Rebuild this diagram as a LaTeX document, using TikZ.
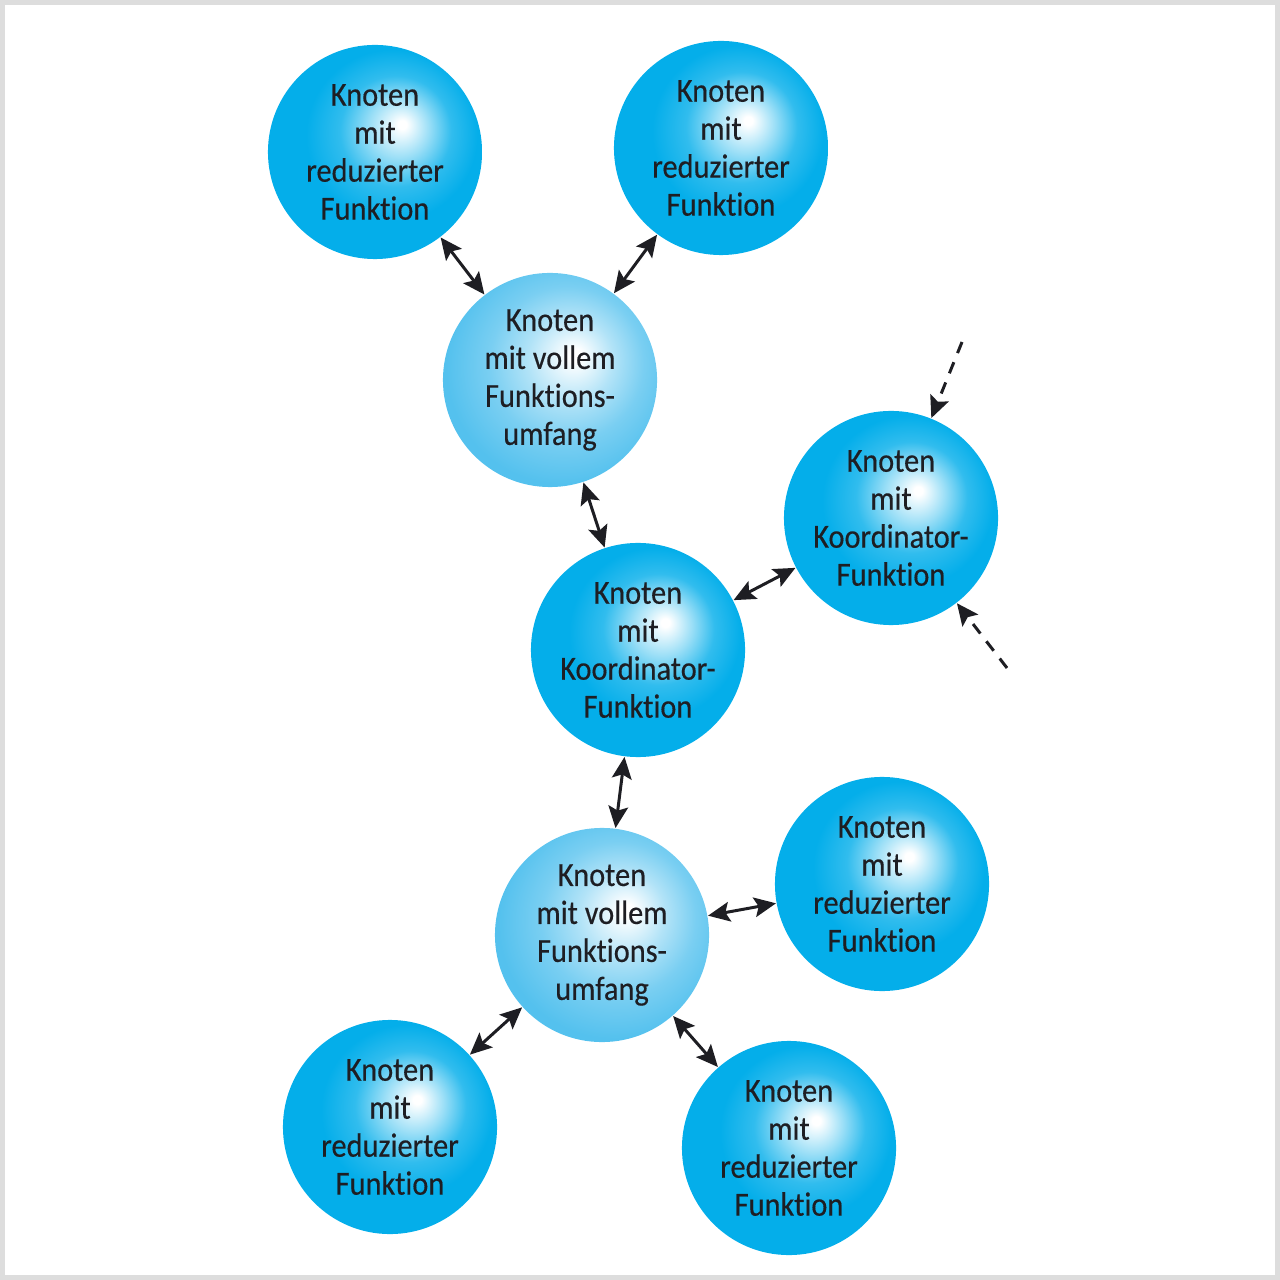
\documentclass[tikz,border=0pt]{standalone}
\usepackage{fontspec}
\setmainfont[FakeStretch=0.9, FakeBold=0.35, Ligatures=NoCommon]{Carlito}
\usepackage{tikz}
\usetikzlibrary{arrows.meta, positioning}
\tikzset{>={Stealth[length=6.2pt,width=5.6pt,inset=1.2pt]}}
\definecolor{kdunkel}{RGB}{4,174,234}
\definecolor{khell}{RGB}{84,193,238}
\definecolor{ktext}{RGB}{30,30,35}
\definecolor{krahmen}{RGB}{221,221,221}
\pgfdeclareradialshading{kugeldunkel}{\pgfpoint{6.5bp}{6.5bp}}{color(0bp)=(white); color(1bp)=(white); color(7bp)=(kdunkel!40); color(13bp)=(kdunkel!82); color(20bp)=(kdunkel); color(50bp)=(kdunkel)}
\pgfdeclareradialshading{kugelhell}{\pgfpoint{6bp}{6bp}}{color(0bp)=(white); color(1.5bp)=(white); color(10bp)=(khell!45); color(18bp)=(khell!78); color(27bp)=(khell); color(50bp)=(khell)}
\tikzset{
  kugel/.style={circle, minimum size=2.14cm, inner sep=0pt, align=center, text=ktext,
    font=\fontsize{9.6pt}{10.8pt}\selectfont},
  reduziert/.style={kugel, shading=kugeldunkel},
  voll/.style={kugel, shading=kugelhell},
  pfeil/.style={<->, line width=0.85pt, draw=ktext},
  zulauf/.style={->, line width=0.85pt, draw=ktext, dash pattern=on 3.4pt off 2.8pt}
}

\begin{document}
\begin{tikzpicture}[x=0.01cm, y=-0.01cm]
		\useasboundingbox (0,0) rectangle (1280,1280);
		\draw[krahmen, line width=0.05cm] (2.5,2.5) rectangle (1277.5,1277.5);
		% obere Gruppe
		\node[reduziert] (R1) at (375,152) {Knoten\\mit\\reduzierter\\Funktion};
		\node[reduziert] (R2) at (721,148) {Knoten\\mit\\reduzierter\\Funktion};
		\node[voll] (V1) at (550,380) {Knoten\\mit vollem\\Funktions-\\umfang};
		% Koordinatoren
		\node[reduziert] (K1) at (638,650) {Knoten\\mit\\Koordinator-\\Funktion};
		\node[reduziert] (K2) at (891,518) {Knoten\\mit\\Koordinator-\\Funktion};
		% untere Gruppe
		\node[voll] (V2) at (602,935) {Knoten\\mit vollem\\Funktions-\\umfang};
		\node[reduziert] (R3) at (882,884) {Knoten\\mit\\reduzierter\\Funktion};
		\node[reduziert] (R4) at (390,1127) {Knoten\\mit\\reduzierter\\Funktion};
		\node[reduziert] (R5) at (789,1148) {Knoten\\mit\\reduzierter\\Funktion};
		\coordinate (E1) at (962,342);
		\coordinate (E2) at (1007,668);
		\draw[pfeil] (R1)--(V1); \draw[pfeil] (R2)--(V1);
		\draw[pfeil] (V1)--(K1); \draw[pfeil] (K1)--(K2);
		\draw[pfeil] (K1)--(V2); \draw[pfeil] (V2)--(R3);
		\draw[pfeil] (V2)--(R4); \draw[pfeil] (V2)--(R5);
		\draw[zulauf] (E1)--(K2); \draw[zulauf] (E2)--(K2);
\end{tikzpicture}
\end{document}
